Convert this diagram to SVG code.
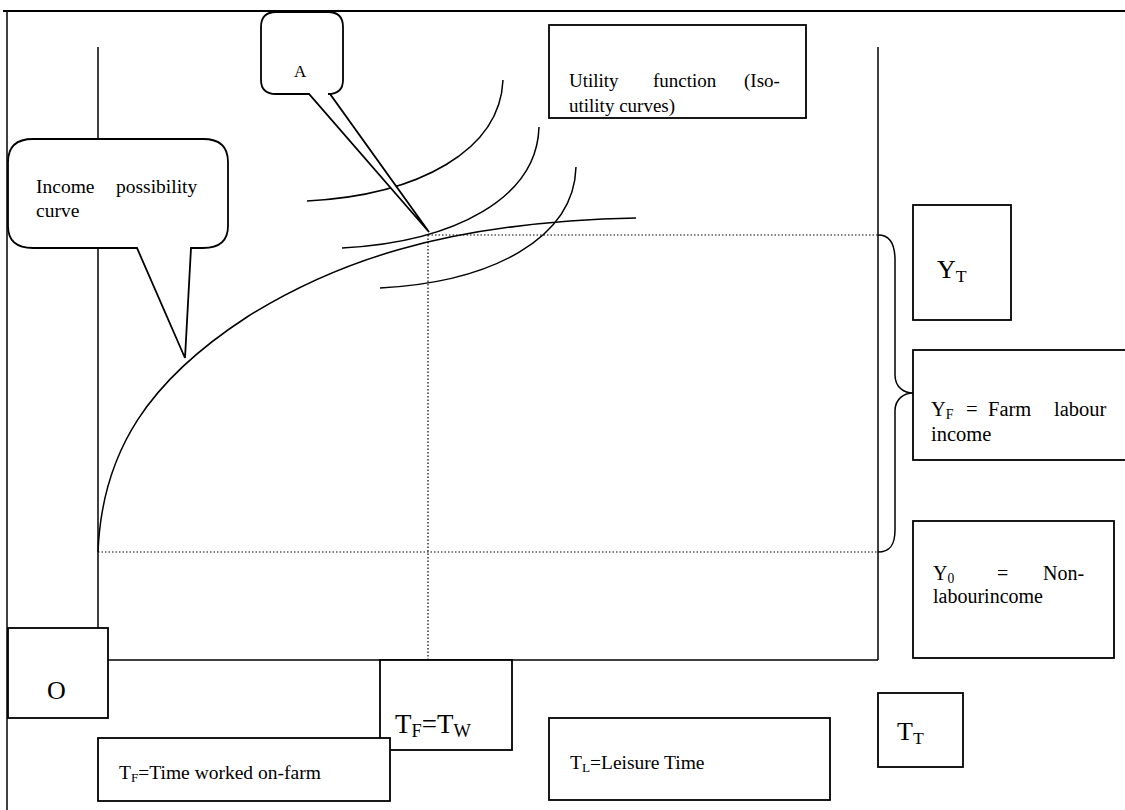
<svg xmlns="http://www.w3.org/2000/svg" width="1125" height="810" viewBox="0 0 1125 810">
<style>
.ln{fill:none;stroke:#000;stroke-width:1.5}
.bx{fill:#fff;stroke:#000;stroke-width:1.8}
.dot{fill:none;stroke:#000;stroke-width:1.2;stroke-dasharray:1.5 2}
.t{font-family:"Liberation Serif","Times New Roman",serif;fill:#000}
.sub{font-size:68%}
</style>
<rect width="1125" height="810" fill="#fff"/>
<g id="frame">
<line x1="3" y1="11" x2="1125" y2="11" stroke="#000" stroke-width="2"/>
<line x1="7" y1="11" x2="7" y2="810" stroke="#000" stroke-width="1.5"/>
</g>
<g id="connectors">
<line class="ln" x1="98" y1="47" x2="98" y2="660"/>
<line class="ln" x1="98" y1="660" x2="878" y2="660"/>
<line class="ln" x1="878" y1="47" x2="878" y2="660"/>
<line class="dot" x1="428" y1="235" x2="878" y2="235"/>
<line class="dot" x1="428" y1="235" x2="428" y2="660"/>
<line class="dot" x1="98" y1="552" x2="878" y2="552"/>
<path class="ln" d="M98,552 C102,450 150,380 247,317 C330,265 440,222 636,218"/>
<path class="ln" d="M307,201 C420,195 500,150 503,80"/>
<path class="ln" d="M342,248 C455,242 537,198 539,127"/>
<path class="ln" d="M380,288 C493,282 574,238 576,167"/>
<path class="ln" d="M878,235 C890,235 895,245 895,260 L895,375 C895,388 905,393 913,393 C905,393 895,398 895,411 L895,530 C895,545 890,552 878,552"/>
</g>
<g id="callout-income">
<path class="bx" d="M33,139 L203,139 Q228,139 228,162 L228,226 Q228,248 203,248 L191,248 L185,358 L137,248 L33,248 Q8,248 8,226 L8,162 Q8,139 33,139 Z"/>
<text class="t" font-size="19.5" x="36" y="193">Income<tspan x="116">possibility</tspan></text>
<text class="t" font-size="19.5" x="36" y="217">curve</text>
</g>
<g id="callout-A">
<path class="bx" d="M276,12 L328,12 Q343,12 343,27 L343,80 Q343,94 328,94 L330,94 L429,232 L309,94 L276,94 Q261,94 261,80 L261,27 Q261,12 276,12 Z"/>
<text class="t" font-size="17" x="294" y="77">A</text>
</g>
<g id="utility">
<rect class="bx" x="549" y="25" width="257" height="93"/>
<text class="t" font-size="19" x="569" y="87">Utility<tspan x="653">function</tspan><tspan x="744">(Iso-</tspan></text>
<text class="t" font-size="19" x="569" y="112">utility curves)</text>
</g>
<g id="YT">
<rect class="bx" x="913" y="205" width="98" height="115"/>
<text class="t" font-size="26" x="937" y="278">Y<tspan class="sub" dy="4">T</tspan></text>
</g>
<g id="YF">
<rect class="bx" x="913" y="350" width="220" height="110"/>
<text class="t" font-size="20.5" x="931" y="416">Y<tspan class="sub" dy="3">F</tspan><tspan dy="-3" x="966">=</tspan><tspan x="988">Farm</tspan><tspan x="1054">labour</tspan></text>
<text class="t" font-size="20.5" x="931" y="441">income</text>
</g>
<g id="Y0">
<rect class="bx" x="913" y="521" width="201" height="137"/>
<text class="t" font-size="20" x="933" y="580">Y<tspan class="sub" dy="3">0</tspan><tspan dy="-3" x="997">=</tspan><tspan x="1043">Non-</tspan></text>
<text class="t" font-size="20" x="933" y="603">labourincome</text>
</g>
<g id="O">
<rect class="bx" x="8" y="628" width="100" height="90"/>
<text class="t" font-size="26" x="47" y="699">O</text>
</g>
<g id="TFTW">
<rect class="bx" x="380" y="660" width="132" height="90"/>
<text class="t" font-size="27" x="395" y="733">T<tspan class="sub" dy="4">F</tspan><tspan dy="-4">=T</tspan><tspan class="sub" dy="4">W</tspan></text>
</g>
<g id="TF">
<rect class="bx" x="98" y="738" width="292" height="63"/>
<text class="t" font-size="19.5" x="119" y="779">T<tspan class="sub" dy="3">F</tspan><tspan dy="-3">=Time worked on-farm</tspan></text>
</g>
<g id="TL">
<rect class="bx" x="549" y="718" width="281" height="82"/>
<text class="t" font-size="19.5" x="570" y="769">T<tspan class="sub" dy="3">L</tspan><tspan dy="-3">=Leisure Time</tspan></text>
</g>
<g id="TT">
<rect class="bx" x="878" y="693" width="85" height="74"/>
<text class="t" font-size="26" x="897" y="740">T<tspan class="sub" dy="4">T</tspan></text>
</g>
</svg>
